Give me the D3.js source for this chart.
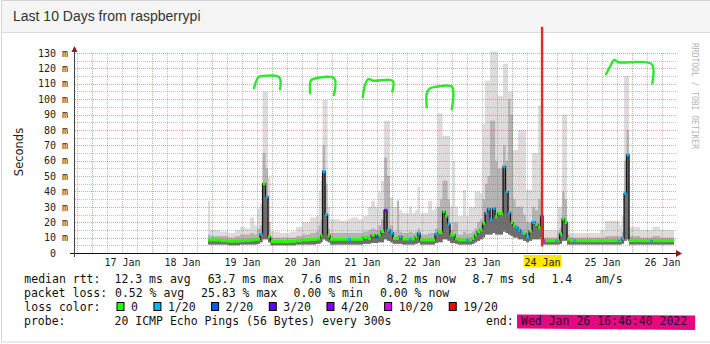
<!DOCTYPE html>
<html>
<head>
<meta charset="utf-8">
<script src="https://cdn.jsdelivr.net/npm/d3@7"></script>
<style>
  html, body { margin: 0; padding: 0; background: #fff; }
  svg { display: block; }
</style>
</head>
<body>
<svg id="chart" width="710" height="344"></svg>
<script>
// hours since 18 Jan 2022 00:00, one entry per consolidated step
const hours = [22.4, 23.2, 27.2, 30.4, 33.2, 35.2, 37.2, 39.2, 40.8, 42.0,
  43.2, 44.2, 45.4, 46.4, 47.4, 51.2, 55.2, 57.6, 60.0, 63.2,
  65.6, 66.6, 67.4, 68.2, 69.2, 70.2, 71.2, 75.2, 78.4, 79.6,
  82.4, 84.4, 86.4, 87.6, 89.2, 90.4, 91.6, 92.8, 94.0, 95.2,
  96.4, 98.0, 98.8, 100.0, 102.8, 104.0, 105.2, 106.2, 107.2, 110.4,
  112.0, 113.2, 114.2, 115.2, 116.2, 117.2, 118.2, 119.2, 120.4, 121.2,
  122.4, 124.4, 125.6, 126.6, 128.0, 129.0, 130.0, 131.2, 132.2, 133.2,
  134.2, 135.2, 136.2, 137.2, 138.2, 140.4, 141.4, 142.4, 143.4, 144.4,
  145.4, 146.4, 147.4, 148.4, 149.6, 150.8, 152.0, 153.2, 154.4, 155.4,
  156.4, 157.2, 161.2, 162.2, 163.0, 164.0, 165.0, 166.0, 167.2, 168.4,
  169.6, 179.2, 181.2, 186.0, 187.0, 187.8, 188.8, 189.8, 190.8, 195.2,
  199.2, 200.2, 203.2, 208.8];
// median rtt (ms)
const median = [8.5, 8.5, 8.0, 7.6, 7.8, 8.0, 8.2, 8.4, 8.8, 9.0,
  12.1, 45, 36.6, 10.6, 7.4, 7.4, 7.6, 8.0, 8.5, 8.8,
  9.0, 9.2, 11.3, 53, 25, 11.3, 8.9, 8.9, 8.9, 8.9,
  8.9, 10.2, 9.5, 11.7, 10.5, 11.7, 14, 27.7, 15, 13,
  9.5, 9.5, 10.6, 9.1, 9.1, 9.1, 10.6, 12.8, 8.5, 8.5,
  8.5, 12.4, 13.4, 13.4, 27, 24, 18.9, 11.7, 11.7, 9.1,
  8.5, 8.5, 8.5, 8.5, 9.5, 11.7, 13.9, 15, 19.3, 26.2,
  28.6, 21.9, 29, 23.6, 25.8, 56.1, 39.9, 26.2, 19.7, 17.6,
  16.7, 15, 13.4, 12.8, 10.6, 14.3, 20, 18.6, 16.7, 24,
  8, 8, 8, 8, 12.4, 22.1, 20, 8.9, 8, 8,
  8, 8, 8, 8, 8, 9.5, 38.8, 63.7, 8, 8,
  8, 8, 8, 8];
// loss class index into lossLabels
const loss = [0, 0, 0, 0, 0, 0, 0, 0, 0, 0,
  1, 0, 1, 0, 0, 0, 0, 0, 0, 0,
  0, 0, 0, 1, 1, 0, 0, 0, 1, 0,
  0, 0, 0, 0, 2, 0, 0, 3, 1, 1,
  0, 0, 1, 0, 1, 0, 0, 1, 0, 0,
  0, 1, 0, 0, 0, 0, 1, 0, 0, 0,
  0, 0, 1, 0, 0, 0, 0, 0, 0, 1,
  1, 1, 1, 0, 0, 1, 1, 1, 0, 0,
  1, 1, 1, 0, 1, 0, 1, 0, 0, 1,
  5, 0, 1, 0, 0, 0, 0, 0, 0, 1,
  0, 0, 0, 1, 0, 1, 1, 1, 0, 0,
  1, 0, 0, 0];
// slowest ping of the step (ms)
const smokeHi = [34, 15, 14, 13, 15, 17, 16, 23, 18, 29,
  32, 105, 105, 49, 14, 13, 14, 17, 20, 23,
  24, 40, 47, 99.5, 99.5, 30, 22, 21, 22, 23,
  22, 24, 30, 34, 30, 40, 47, 86, 86, 36,
  30, 34, 28, 26, 30, 26, 28, 43, 26, 34,
  28, 30, 91, 91, 76, 76, 76, 30, 60, 30,
  24, 41, 24, 30, 30, 40, 40, 39, 84, 112,
  112, 131, 131, 131, 102, 123, 123, 105, 105, 67,
  67, 80, 80, 80, 41, 41, 65, 65, 96, 96,
  15, 15, 15, 30, 30, 90, 90, 20, 13, 13,
  13, 15, 21, 21, 18, 24, 115, 115, 17, 15,
  15, 17, 15, 15];
// upper dense part of the smoke (ms)
const smokeUp = [12, 11, 11, 10, 11, 12, 12, 13, 12, 16,
  18, 65, 55, 20, 10, 10, 10, 11, 12, 13,
  14, 18, 22, 70, 45, 16, 13, 13, 13, 13,
  13, 14, 15, 16, 15, 18, 22, 62, 50, 18,
  14, 34, 14, 13, 14, 13, 14, 16, 12, 13,
  13, 16, 30, 35, 47, 47, 35, 15, 20, 20,
  12, 14, 12, 13, 14, 16, 20, 22, 35, 45,
  50, 86, 86, 60, 55, 70, 60, 100, 90, 35,
  30, 30, 30, 25, 20, 20, 30, 28, 35, 40,
  10, 10, 10, 14, 16, 40, 35, 12, 10, 10,
  10, 10, 11, 11, 11, 14, 60, 80, 11, 10,
  10, 11, 10, 10];
// fastest ping of the step (ms)
const smokeLo = [5.5, 5.5, 5.5, 5.0, 5.0, 5.5, 5.5, 5.5, 5.5, 6,
  7, 9, 9, 7, 5, 5, 5, 5.5, 5.5, 5.5,
  6, 6, 7, 9, 8, 7, 5.5, 5.5, 5.5, 5.5,
  5.5, 6, 6, 6.5, 6.5, 7, 7, 9, 8, 7,
  6, 6, 6, 5.5, 5.5, 5.5, 6, 6.5, 5.5, 5.5,
  5.5, 6.5, 7, 7, 9, 9, 8, 6.5, 6.5, 6,
  5.5, 5.5, 5.5, 5.5, 6, 7, 8, 9, 10, 12,
  12, 12, 13, 12, 12, 14, 13, 12, 11, 10,
  10, 9, 9, 8, 7, 8, 9, 9, 9, 10,
  5.5, 5.5, 5.5, 5.5, 6, 8, 8, 5.5, 5.5, 5.5,
  5.5, 5.5, 5.5, 5.5, 5.5, 6, 8, 9, 5.5, 5.5,
  5.5, 5.5, 5.5, 5.5];

const lossLabels = ['0', '1/20', '2/20', '3/20', '4/20', '10/20', '19/20'];
const lossColors = ['#26ff00', '#00b8ff', '#0059ff', '#5e00ff', '#7e00ff', '#dd00ff', '#ff0000'];
const yTickValues = [0, 10, 20, 30, 40, 50, 60, 70, 80, 90, 100, 110, 120, 130];
const dayLabels = ['17 Jan', '18 Jan', '19 Jan', '20 Jan', '21 Jan', '22 Jan', '23 Jan', '24 Jan', '25 Jan', '26 Jan'];
const rttStats = ['12.3', '63.7', '7.6', '8.2', '8.7'];
const rttNames = ['avg', 'max', 'min', 'now', 'sd'];
const amS = '1.4';
const lossStats = ['0.52', '25.83', '0.00', '0.00'];
const lossNames = ['avg', 'max', 'min', 'now'];
const probeText = '20 ICMP Echo Pings (56 Bytes) every 300s';
const endText = 'Wed Jan 26 16:46:40 2022';
const titleText = 'Last 10 Days from raspberrypi';

// hand drawn annotations: [hours, ms]
const greenMarks = [
  [[40.8, 107.1], [42.5, 114.2], [44.5, 115.1], [50.9, 114.2], [51.2, 106.4]],
  [[63.2, 103.8], [63.5, 112], [64.5, 113.1], [72.8, 113.6], [72.8, 102.7]],
  [[84.3, 101.2], [85.2, 109.2], [86.5, 113.1], [88.5, 112], [95.2, 112.5], [96.5, 111.4], [96.1, 104.9]],
  [[109.9, 94.7], [109.9, 103.8], [111.2, 107.1], [113.9, 108.1], [119.9, 108.1], [119.9, 93.4]],
  [[181.6, 116.2], [183.2, 121.1], [184.9, 125.5], [186.5, 124], [199.9, 122.7], [200.1, 110.3]]
];
const redLineHour = 156;
const redLineRange = [4.2, 147];

const svg = d3.select('#chart');
const mono = '"DejaVu Sans Mono", monospace';

// panel frame
svg.append('rect').attr('x', 1.5).attr('y', 0.5).attr('width', 730).attr('height', 341.5)
  .attr('fill', '#fff').attr('stroke', '#d6d6d6');
svg.append('rect').attr('x', 2).attr('y', 1).attr('width', 730).attr('height', 31)
  .attr('fill', '#f5f5f5');
svg.append('line').attr('x1', 2).attr('x2', 710).attr('y1', 32.5).attr('y2', 32.5)
  .attr('stroke', '#dcdcdc');
svg.append('text').attr('x', 13).attr('y', 21)
  .style('font-family', '"Liberation Sans", Arial, sans-serif').style('font-size', '14px')
  .attr('fill', '#333').text(titleText);

const t0 = new Date(2022, 0, 18);
const toDate = h => new Date(t0.getTime() + h * 3600e3);
const start = new Date(2022, 0, 16, 16, 46, 40);
const end = new Date(2022, 0, 26, 16, 46, 40);

const x = d3.scaleTime().domain([start, end]).range([74, 674]);
const y = d3.scaleLinear().domain([0, 130]).range([253, 53]);

const pts = hours.map((h, i) => ({
  t: toDate(h), med: median[i], loss: loss[i], hi: smokeHi[i], up: smokeUp[i], lo: smokeLo[i]
}));

// smoke
const smoke = svg.append('g');
const band = (top, color) => smoke.append('path').datum(pts)
  .attr('fill', color)
  .attr('d', d3.area().x(d => x(d.t)).y0(d => y(d.lo)).y1(d => y(d[top])).curve(d3.curveStepAfter));
band('hi', '#dcdcdc');
band('up', '#b4b4b4');
band('med', '#6e6e6e');

// grid on top of the smoke
const grid = svg.append('g').attr('stroke-dasharray', '1,1').attr('shape-rendering', 'crispEdges');
y.ticks(26).filter(v => v % 10 !== 0).forEach(v => {
  grid.append('line').attr('x1', 75).attr('x2', 677).attr('y1', Math.round(y(v)) + 0.5).attr('y2', Math.round(y(v)) + 0.5)
    .attr('stroke', 'rgba(120,120,120,0.45)');
});
d3.timeHour.every(6).range(start, end).filter(d => d.getHours() !== 0).forEach(d => {
  grid.append('line').attr('y1', 53).attr('y2', 253).attr('x1', Math.round(x(d)) + 0.5).attr('x2', Math.round(x(d)) + 0.5)
    .attr('stroke', 'rgba(120,120,120,0.45)');
});
yTickValues.slice(1).forEach(v => {
  grid.append('line').attr('x1', 75).attr('x2', 677).attr('y1', Math.round(y(v)) + 0.5).attr('y2', Math.round(y(v)) + 0.5)
    .attr('stroke', 'rgba(210,40,40,0.45)');
});
d3.timeDay.range(start, end).forEach(d => {
  grid.append('line').attr('y1', 53).attr('y2', 253).attr('x1', Math.round(x(d)) + 0.5).attr('x2', Math.round(x(d)) + 0.5)
    .attr('stroke', 'rgba(210,40,40,0.45)');
});

// median line
svg.append('path').datum(pts)
  .attr('fill', 'none').attr('stroke', '#151515').attr('stroke-width', 1.3)
  .attr('d', d3.line().x(d => x(d.t)).y(d => y(d.med)).curve(d3.curveStepAfter));
svg.append('g').selectAll('line')
  .data(pts.slice(0, -1))
  .join('line')
  .attr('x1', d => x(d.t))
  .attr('x2', (d, i) => x(pts[i + 1].t))
  .attr('y1', d => y(d.med))
  .attr('y2', d => y(d.med))
  .attr('stroke', d => lossColors[d.loss])
  .attr('stroke-width', 3);

// axes
svg.append('line').attr('x1', 70).attr('x2', 677).attr('y1', 253.5).attr('y2', 253.5).attr('stroke', '#111');
svg.append('line').attr('x1', 74.5).attr('x2', 74.5).attr('y1', 50).attr('y2', 257).attr('stroke', '#444');
svg.append('path').attr('d', 'M676,250 L682,253.5 L676,257 Z').attr('fill', '#8b1a1a');
svg.append('path').attr('d', 'M71.5,52 L74.5,46 L77.5,52 Z').attr('fill', '#8b1a1a');

const yAxis = svg.append('g').attr('transform', 'translate(74,0)')
  .call(d3.axisLeft(y).tickValues(yTickValues).tickSize(0).tickPadding(6)
    .tickFormat(d => d === 0 ? '0  ' : `${d} m`));
yAxis.select('.domain').remove();
yAxis.selectAll('text').style('font-family', mono).style('font-size', '10px')
  .style('white-space', 'pre').attr('fill', '#222');

const noons = dayLabels.map((_, i) => new Date(2022, 0, 17 + i, 12));
const xAxis = svg.append('g').attr('transform', 'translate(0,253)')
  .call(d3.axisBottom(x).tickValues(noons).tickSize(0).tickPadding(6)
    .tickFormat((d, i) => dayLabels[i]));
xAxis.select('.domain').remove();
xAxis.selectAll('text').style('font-family', mono).style('font-size', '10px').attr('fill', '#222');

// yellow highlight behind 24 Jan
xAxis.selectAll('.tick').filter((d, i) => dayLabels[i] === '24 Jan').each(function () {
  const b = this.querySelector('text').getBBox();
  d3.select(this).insert('rect', 'text')
    .attr('x', b.x - 1).attr('y', 2).attr('width', b.width + 2).attr('height', 12.5)
    .attr('fill', '#ffe800');
});

// y label and watermark
svg.append('text').attr('transform', 'translate(23,152) rotate(-90)')
  .attr('text-anchor', 'middle').style('font-family', '"DejaVu Sans", sans-serif').style('font-size', '11.5px')
  .attr('fill', '#222').text('Seconds');
svg.append('text').attr('transform', 'translate(691.5,43) rotate(90)')
  .style('font-family', mono).style('font-size', '8px')
  .attr('fill', '#b4b4b4').text('RRDTOOL / TOBI OETIKER');

// annotations
svg.append('line')
  .attr('x1', x(toDate(redLineHour))).attr('x2', x(toDate(redLineHour)))
  .attr('y1', y(redLineRange[1])).attr('y2', y(redLineRange[0]))
  .attr('stroke', '#e52a2a').attr('stroke-width', 2.4);
const markLine = d3.line().x(d => x(toDate(d[0]))).y(d => y(d[1])).curve(d3.curveCatmullRom.alpha(0.5));
svg.append('g').selectAll('path').data(greenMarks).join('path')
  .attr('d', markLine).attr('fill', 'none').attr('stroke', '#2fe62f')
  .attr('stroke-width', 2.4).attr('stroke-linecap', 'round').attr('stroke-linejoin', 'round');

// legend
const leg = svg.append('g').style('font-family', mono).style('font-size', '11.5px')
  .style('white-space', 'pre').attr('fill', '#111');
const rows = [283, 297, 311, 325];
leg.append('text').attr('x', 24.3).attr('y', rows[0]).text('median rtt:');
const rttX = [114.5, 207.7, 301, 386.6, 472.6];
rttStats.forEach((v, i) => leg.append('text').attr('x', rttX[i]).attr('y', rows[0]).text(`${v} ms ${rttNames[i]}`));
leg.append('text').attr('x', 551.5).attr('y', rows[0]).text(amS);
leg.append('text').attr('x', 595).attr('y', rows[0]).text('am/s');

leg.append('text').attr('x', 24).attr('y', rows[1]).text('packet loss:');
const lossX = [115, 201, 293.6, 380];
lossStats.forEach((v, i) => leg.append('text').attr('x', lossX[i]).attr('y', rows[1]).text(`${v} % ${lossNames[i]}`));

leg.append('text').attr('x', 24.3).attr('y', rows[2]).text('loss color:');
let bx = 116.5;
lossLabels.forEach((lab, i) => {
  leg.append('rect').attr('x', bx + 0.5).attr('y', 302.5).attr('width', 7).attr('height', 8)
    .attr('fill', lossColors[i]).attr('stroke', '#000');
  leg.append('text').attr('x', bx + 14.5).attr('y', rows[2]).text(lab);
  bx += 14.5 + lab.length * 6.92 + 15.5;
});

leg.append('text').attr('x', 24).attr('y', rows[3]).text('probe:');
leg.append('text').attr('x', 114.5).attr('y', rows[3]).text(probeText);
leg.append('text').attr('x', 486).attr('y', rows[3]).text('end:');
const endNode = leg.append('text').attr('x', 521).attr('y', rows[3]).attr('fill', '#2a0a30').text(endText);
const eb = endNode.node().getBBox();
leg.insert('polygon', function () { return endNode.node(); })
  .attr('points', [
    [eb.x - 4, eb.y + 0.5], [eb.x + eb.width + 8, eb.y + 1.5],
    [eb.x + eb.width + 8, eb.y + eb.height + 2], [eb.x - 4, eb.y + eb.height + 0.5]
  ].map(p => p.join(',')).join(' '))
  .attr('fill', '#e5097f');
</script>
</body>
</html>
